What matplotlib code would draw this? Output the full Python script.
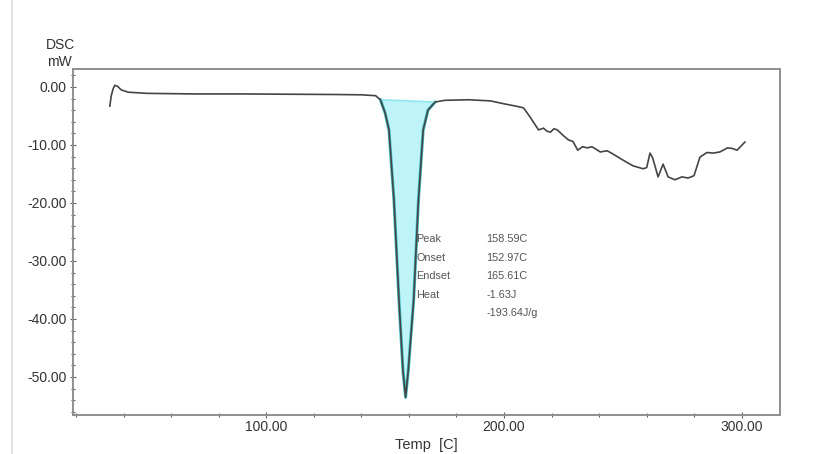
import matplotlib
matplotlib.use("Agg")
import matplotlib.pyplot as plt
from matplotlib.ticker import MultipleLocator, FormatStrFormatter
import numpy as np

plt.rcParams['font.family'] = ['Liberation Sans', 'DejaVu Sans']

# DSC curve (Temp [C], mW)
temp = [34.2, 34.8, 35.6, 36.3, 37.5, 39.0, 42.0, 50.0, 70.0, 90.0, 110.0, 130.0, 140.0, 146.0,
        148.0, 150.0, 151.6, 153.7, 155.8, 157.5, 158.6, 159.7, 161.0, 162.0, 164.0, 166.0,
        168.0, 171.0, 175.0, 185.0, 194.3, 200.0, 205.0, 208.2, 211.0, 214.5, 216.6, 218.0,
        219.5, 221.0, 222.4, 225.0, 227.0, 229.0, 231.0, 233.0, 235.0, 237.0, 240.5, 243.4,
        246.0, 250.0, 254.3, 258.5, 260.0, 261.4, 262.5, 264.8, 266.9, 269.0, 271.9, 274.8,
        277.4, 279.9, 282.4, 285.3, 288.0, 290.8, 294.0, 296.0, 298.0, 301.3]
dsc = [-3.3, -1.5, -0.3, 0.3, 0.1, -0.5, -0.9, -1.1, -1.2, -1.2, -1.25, -1.3, -1.35, -1.5,
       -2.2, -4.5, -7.4, -19.5, -36.7, -49.0, -53.5, -49.0, -42.0, -36.7, -19.5, -7.4,
       -4.0, -2.6, -2.3, -2.2, -2.4, -2.9, -3.3, -3.6, -5.2, -7.4, -7.1, -7.6,
       -7.8, -7.2, -7.4, -8.4, -9.1, -9.4, -10.9, -10.3, -10.5, -10.3, -11.2, -11.0,
       -11.6, -12.6, -13.6, -14.1, -13.9, -11.4, -12.2, -15.5, -13.3, -15.5, -16.0, -15.5,
       -15.7, -15.3, -12.1, -11.3, -11.4, -11.2, -10.5, -10.6, -10.9, -9.5]

# integration baseline for the melting peak
base_t = [148.0, 171.0]
base_y = [-2.2, -2.6]

labels = ["Peak", "Onset", "Endset", "Heat", ""]
values = ["158.59C", "152.97C", "165.61C", "-1.63J", "-193.64J/g"]

fig = plt.figure(figsize=(8.2, 4.54), dpi=100)
ax = fig.add_axes([0.089, 0.086, 0.862, 0.762])

# cyan fill of peak area
t_arr = np.array(temp)
y_arr = np.array(dsc)
mask = (t_arr >= base_t[0]) & (t_arr <= base_t[1])
bl = np.interp(t_arr[mask], base_t, base_y)
ax.fill_between(t_arr[mask], y_arr[mask], bl, color='#aef1f7', alpha=0.8, lw=0)
ax.plot(t_arr[mask], y_arr[mask], color='#3fbfc8', lw=2.2)
ax.plot(base_t, base_y, color='#8fe6ee', lw=1.2)
ax.plot(temp, dsc, color='#454545', lw=1.2)

ax.set_xlim(18.7, 316)
ax.set_ylim(-56.55, 3.1)
ax.xaxis.set_major_locator(MultipleLocator(100))
ax.xaxis.set_minor_locator(MultipleLocator(20))
ax.yaxis.set_major_locator(MultipleLocator(10))
ax.yaxis.set_minor_locator(MultipleLocator(2))
ax.xaxis.set_major_formatter(FormatStrFormatter('%.2f'))
ax.yaxis.set_major_formatter(FormatStrFormatter('%.2f'))
for s in ax.spines.values():
    s.set_color('#8f8f8f')
    s.set_linewidth(1.4)
ax.tick_params(axis='both', which='both', direction='inout', color='#606060',
               labelsize=10, labelcolor='#333333', width=0.8)
ax.tick_params(axis='both', which='major', length=5)
ax.tick_params(axis='both', which='minor', length=3)
ax.tick_params(axis='x', pad=1)
ax.tick_params(axis='y', pad=2)

ax.set_xlabel('Temp  [C]', fontsize=10.5, color='#333333', labelpad=3)
fig.text(0.074, 0.900, 'DSC', fontsize=10, color='#333333', ha='center', va='center')
fig.text(0.072, 0.864, 'mW', fontsize=10, color='#333333', ha='center', va='center')

ys = [-26.2, -29.5, -32.6, -35.9, -39.0]
for lab, val, yy in zip(labels, values, ys):
    ax.text(163.2, yy, lab, fontsize=7.8, color='#555555', va='center', ha='left')
    ax.text(192.5, yy, val, fontsize=7.8, color='#555555', va='center', ha='left')

fig.add_artist(plt.Line2D([0.0146, 0.0146], [0.0, 1.0], color='#dddddd', lw=1.2,
                          transform=fig.transFigure))

fig.savefig('out.png', dpi=100)
